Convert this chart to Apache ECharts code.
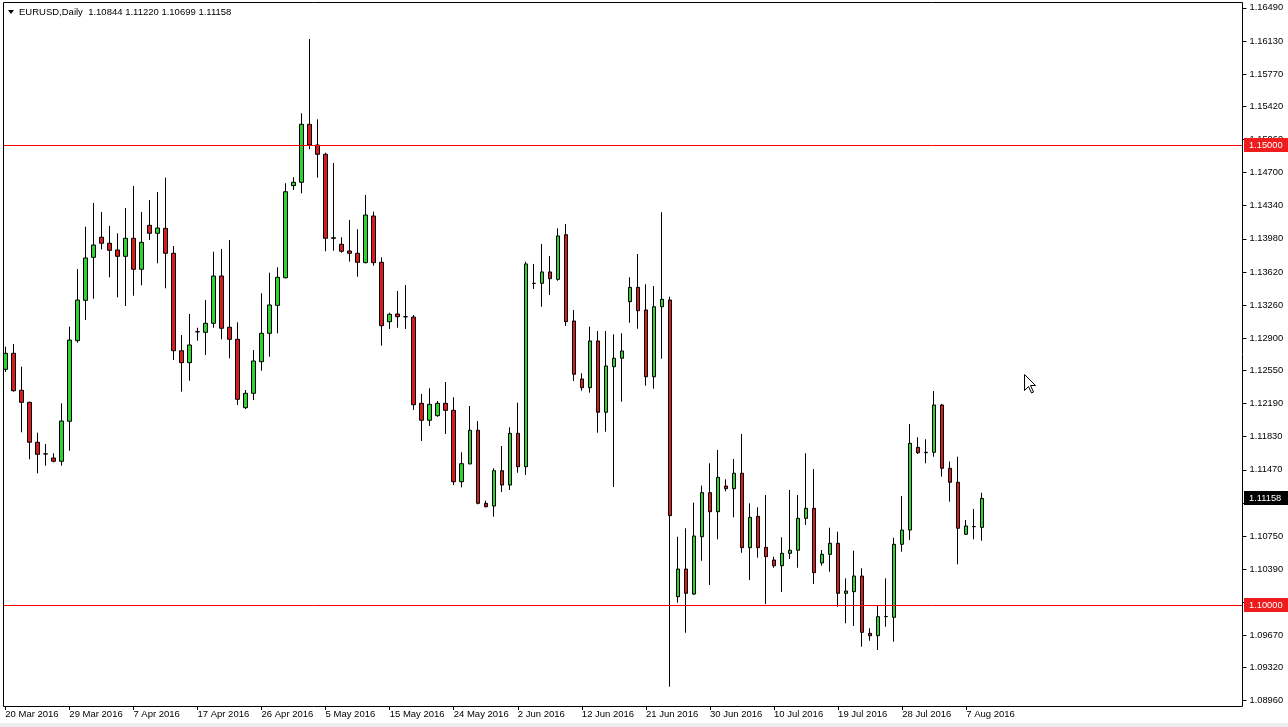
<!DOCTYPE html>
<html><head><meta charset="utf-8">
<script src="https://cdn.jsdelivr.net/npm/echarts@6/dist/echarts.min.js"></script>
<style>html,body{margin:0;padding:0;background:#fff;overflow:hidden}#c{width:1288px;height:727px}</style>
</head><body><div id="c"></div>
<script>
const symbolName = 'EURUSD,Daily';
const firstBarDate = [2016, 3, 20]; // daily bars Sun–Fri
const emptySlots = 32;              // chart shift space on the right

const opens = [1.12562,1.12736,1.12334,1.12203,1.11769,1.11643,1.11598,1.11562,1.11997,1.12873,
1.13312,1.13779,1.13997,1.13932,1.13859,1.13790,1.13986,1.13649,1.14127,1.14040,
1.14094,1.13823,1.12764,1.12634,1.12969,1.12964,1.13062,1.13576,1.13019,1.12888,
1.12145,1.12301,1.12645,1.12953,1.13257,1.13557,1.14558,1.14595,1.15225,1.15000,
1.14899,1.13986,1.13921,1.13848,1.13823,1.13721,1.14228,1.13725,1.13079,1.13163,
1.13134,1.13130,1.12192,1.12008,1.12058,1.12192,1.12116,1.11340,1.11533,1.11899,
1.11105,1.11076,1.11460,1.11304,1.11866,1.11503,1.13495,1.13497,1.13620,1.13540,
1.14025,1.13087,1.12457,1.12362,1.12870,1.12095,1.12590,1.12682,1.13297,1.13453,
1.13207,1.12481,1.13242,1.13315,1.10090,1.10391,1.10119,1.10742,1.11221,1.11014,
1.11293,1.11264,1.11432,1.10623,1.10964,1.10627,1.10489,1.10427,1.10562,1.10595,
1.10942,1.11051,1.10457,1.10551,1.10671,1.10127,1.10145,1.10315,1.09692,1.09666,
1.09873,1.09866,1.10660,1.10815,1.11714,1.11655,1.11660,1.12174,1.11486,1.11334,
1.10769,1.10851,1.10844];
const closes = [1.12736,1.12329,1.12203,1.11769,1.11638,1.11641,1.11562,1.12000,1.12880,1.13315,
1.13772,1.13913,1.13932,1.13855,1.13790,1.13986,1.13649,1.13942,1.14040,1.14098,
1.13823,1.12764,1.12634,1.12826,1.12971,1.13062,1.13576,1.13008,1.12888,1.12236,
1.12301,1.12652,1.12953,1.13261,1.13562,1.14492,1.14595,1.15225,1.15000,1.14899,
1.13986,1.13992,1.13845,1.13823,1.13725,1.14239,1.13721,1.13036,1.13160,1.13134,
1.13132,1.12177,1.12008,1.12181,1.12192,1.12116,1.11340,1.11536,1.11899,1.11105,
1.11068,1.11460,1.11304,1.11866,1.11503,1.13707,1.13497,1.13620,1.13547,1.14011,
1.13079,1.12508,1.12362,1.12870,1.12095,1.12598,1.12682,1.12761,1.13453,1.13199,
1.12481,1.13242,1.13323,1.10971,1.10391,1.10127,1.10750,1.11221,1.11014,1.11388,
1.11264,1.11432,1.10623,1.10953,1.10623,1.10525,1.10427,1.10562,1.10595,1.10942,
1.11051,1.10351,1.10551,1.10671,1.10127,1.10152,1.10315,1.09703,1.09666,1.09873,
1.09875,1.10660,1.10815,1.11758,1.11655,1.11660,1.12174,1.11486,1.11334,1.10834,
1.10859,1.10853,1.11158];
const lows = [1.12533,1.12319,1.11877,1.11584,1.11432,1.11514,1.11551,1.11514,1.11677,1.12851,
1.13098,1.13329,1.13866,1.13562,1.13345,1.13250,1.13362,1.13475,1.13967,1.13714,
1.13442,1.12663,1.12319,1.12438,1.12873,1.12717,1.13014,1.12888,1.12682,1.12174,
1.12130,1.12228,1.12547,1.12699,1.12953,1.13551,1.14511,1.14475,1.14953,1.14645,
1.13845,1.13851,1.13829,1.13732,1.13568,1.13714,1.13688,1.12819,1.13000,1.13014,
1.13000,1.12120,1.11783,1.11946,1.12047,1.11859,1.11304,1.11279,1.11533,1.11094,
1.11062,1.10960,1.11228,1.11250,1.11438,1.11413,1.13435,1.13242,1.13370,1.13525,
1.13033,1.12435,1.12329,1.12308,1.11873,1.11884,1.11283,1.12210,1.13068,1.13003,
1.12384,1.12351,1.12677,1.09112,1.10025,1.09699,1.10109,1.10481,1.10217,1.10714,
1.11236,1.10953,1.10568,1.10272,1.10514,1.10011,1.10405,1.10141,1.10500,1.10405,
1.10870,1.10228,1.10427,1.10362,1.09981,1.09801,1.09772,1.09547,1.09612,1.09511,
1.09764,1.09601,1.10579,1.10707,1.11641,1.11540,1.11612,1.11395,1.11123,1.10442,
1.10761,1.10714,1.10699];
const highs = [1.12808,1.12837,1.12590,1.12210,1.11873,1.11750,1.11649,1.12192,1.13025,1.13652,
1.14112,1.14370,1.14272,1.14120,1.14040,1.14315,1.14554,1.14272,1.14402,1.14489,
1.14645,1.13902,1.12935,1.13163,1.13014,1.13315,1.13840,1.13870,1.13967,1.13073,
1.12337,1.12772,1.13388,1.13612,1.13671,1.14584,1.14649,1.15345,1.16152,1.15279,
1.14916,1.14804,1.13997,1.14185,1.14084,1.14457,1.14275,1.13779,1.13177,1.13413,
1.13478,1.13152,1.12294,1.12355,1.12217,1.12424,1.12258,1.11660,1.12163,1.12000,
1.11134,1.11486,1.11728,1.11932,1.12199,1.13732,1.13707,1.13924,1.13794,1.14094,
1.14141,1.13207,1.12519,1.13025,1.12978,1.12978,1.12942,1.12953,1.13562,1.13815,
1.13486,1.13467,1.14269,1.13351,1.10742,1.10834,1.11112,1.11297,1.11540,1.11685,
1.11366,1.11587,1.11859,1.11105,1.11062,1.11196,1.10525,1.10736,1.11250,1.11196,
1.11649,1.11478,1.10598,1.10840,1.10797,1.10290,1.10590,1.10399,1.09747,1.09989,
1.10290,1.10731,1.11185,1.11967,1.11823,1.11801,1.12326,1.12185,1.11558,1.11612,
1.10924,1.11044,1.11220];

const priceTicks = [1.16490,1.16130,1.15770,1.15420,1.15060,1.14700,1.14340,1.13980,1.13620,1.13260,
1.12900,1.12550,1.12190,1.11830,1.11470,1.11110,1.10750,1.10390,1.10030,1.09670,1.09320,1.08960];
const levelLines = [1.15000, 1.10000];

// ---- build ----
const monthNames = ['Jan','Feb','Mar','Apr','May','Jun','Jul','Aug','Sep','Oct','Nov','Dec'];
const categories = [];
let d = new Date(Date.UTC(firstBarDate[0], firstBarDate[1]-1, firstBarDate[2]));
while (categories.length < opens.length) {
  if (d.getUTCDay() !== 6) categories.push(d.getUTCDate()+' '+monthNames[d.getUTCMonth()]+' '+d.getUTCFullYear());
  d = new Date(d.getTime() + 86400000);
}
for (let i = 0; i < emptySlots; i++) categories.push('');
const ohlc = opens.map((o, i) => [o, closes[i], lows[i], highs[i]]);
const n = opens.length;
const lastClose = closes[n-1];
const headerText = symbolName + '  ' + [opens[n-1], highs[n-1], lows[n-1], closes[n-1]].map(v => v.toFixed(5)).join(' ');

const FONT = 'Liberation Sans';
const LEVEL_RED = '#ff0000';
const chart = echarts.init(document.getElementById('c'), null, {renderer: 'canvas'});
const labelShow = (idx, val) => val !== '' && idx % 8 === 0;

const baseGraphics = [
  {type: 'rect', z: 100, silent: true, shape: {x: 3.5, y: 2.5, width: 1239, height: 704},
    style: {fill: 'none', stroke: '#000', lineWidth: 1}},
  {type: 'rect', z: 1, silent: true, shape: {x: 0, y: 723, width: 1288, height: 4}, style: {fill: '#ececec'}},
  {type: 'polygon', z: 101, silent: true, shape: {points: [[8, 10], [14, 10], [11, 14]]}, style: {fill: '#000'}},
  {type: 'text', z: 101, silent: true, x: 19, y: 7,
    style: {text: headerText, fill: '#000', font: '9.5px "Liberation Sans"'}},
  {type: 'polygon', z: 101, silent: true,
    shape: {points: [[1024.5,374.5],[1024.5,390.5],[1028.5,386.5],[1031.5,393],[1033.5,392],[1030.5,385.5],[1035.5,385.5]]},
    style: {fill: '#fff', stroke: '#000', lineWidth: 1}}
];

chart.setOption({
  animation: false,
  backgroundColor: '#ffffff',
  grid: {left: 1.3, right: 45.5, top: 3, bottom: 21, show: false},
  xAxis: {
    type: 'category', data: categories, boundaryGap: true,
    axisLine: {show: false},
    axisTick: {show: true, alignWithLabel: true, interval: labelShow, length: 4, lineStyle: {color: '#000'}},
    axisLabel: {interval: labelShow, align: 'left', margin: 3, color: '#000', fontFamily: FONT, fontSize: 9.5, showMinLabel: true},
    splitLine: {show: false}
  },
  yAxis: {
    type: 'value', position: 'right', scale: true,
    min: 1.089022, max: 1.165435,
    axisLine: {show: false},
    splitLine: {show: false},
    axisTick: {show: true, customValues: priceTicks, length: 4, lineStyle: {color: '#000'}},
    axisLabel: {customValues: priceTicks, formatter: v => v.toFixed(5), margin: 7, color: '#000', fontFamily: FONT, fontSize: 9.3}
  },
  series: [{
    type: 'candlestick',
    data: ohlc,
    barWidth: 4,
    z: 3,
    itemStyle: {
      color: '#2bd42b', color0: '#d81b1b',
      borderColor: '#000', borderColor0: '#000', borderColorDoji: '#000', borderWidth: 1
    }
  }],
  graphic: baseGraphics
});

// horizontal level lines and price boxes, positioned through the chart's own y scale
const extra = [];
const priceBox = (v, bg) => {
  const y = chart.convertToPixel({yAxisIndex: 0}, v);
  extra.push({type: 'rect', z: 120, silent: true, shape: {x: 1244, y: Math.round(y) - 7, width: 44, height: 14}, style: {fill: bg}});
  extra.push({type: 'text', z: 121, silent: true, x: 1249, y: Math.round(y) + 0.5,
    style: {text: v.toFixed(5), fill: '#fff', font: '9.3px "Liberation Sans"', verticalAlign: 'middle', align: 'left'}});
};
levelLines.forEach(v => {
  const y = Math.round(chart.convertToPixel({yAxisIndex: 0}, v)) + 0.5;
  extra.push({type: 'line', z: 110, silent: true, shape: {x1: 4, y1: y, x2: 1242, y2: y},
    style: {stroke: LEVEL_RED, lineWidth: 1}});
  priceBox(v, '#ee1c1c');
});
priceBox(lastClose, '#000000');
chart.setOption({graphic: baseGraphics.concat(extra)});
</script></body></html>
